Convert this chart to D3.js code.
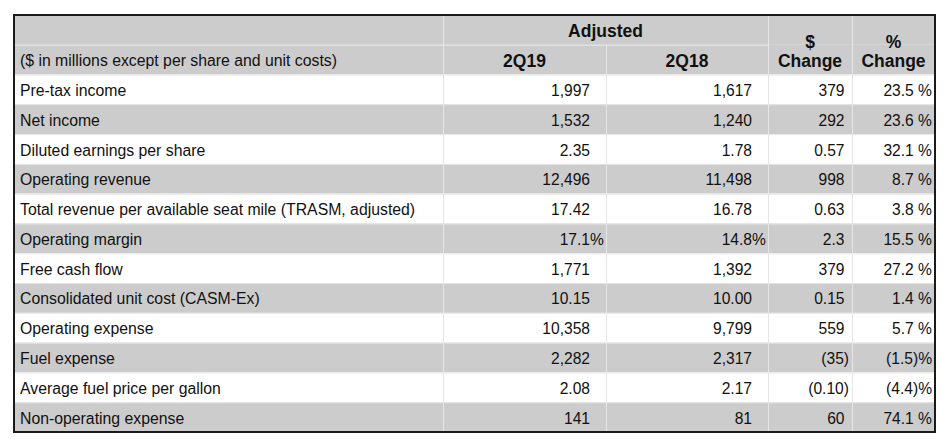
<!DOCTYPE html>
<html>
<head>
<meta charset="utf-8">
<script src="https://cdn.jsdelivr.net/npm/d3@7"></script>
<style>
  body { margin: 0; background: #fff; }
  svg text { font-family: "Liberation Sans", Arial, sans-serif; font-size: 15.6px; fill: #111; }
  svg text.lbl { font-size: 15.8px; }
  svg text.hd { font-weight: bold; font-size: 17.5px; }
</style>
</head>
<body>
<svg id="tab" width="952" height="446"></svg>
<script>
// table data
var metrics = ["Pre-tax income", "Net income", "Diluted earnings per share", "Operating revenue",
    "Total revenue per available seat mile (TRASM, adjusted)", "Operating margin", "Free cash flow",
    "Consolidated unit cost (CASM-Ex)", "Operating expense", "Fuel expense",
    "Average fuel price per gallon", "Non-operating expense"];
var q2_19 = [1997, 1532, 2.35, 12496, 17.42, 17.1, 1771, 10.15, 10358, 2282, 2.08, 141];
var q2_18 = [1617, 1240, 1.78, 11498, 16.78, 14.8, 1392, 10.00, 9799, 2317, 2.17, 81];
var dollarChange = [379, 292, 0.57, 998, 0.63, 2.3, 379, 0.15, 559, -35, -0.10, 60];
var pctChange = [23.5, 23.6, 32.1, 8.7, 3.8, 15.5, 27.2, 1.4, 5.7, -1.5, -4.4, 74.1];
var rowFormat = ["int", "int", "dec2", "int", "dec2", "pct", "int", "dec2", "int", "int", "dec2", "int"];
var headTop = ["", "Adjusted", "$", "%"];
var headBottom = ["($ in millions except per share and unit costs)", "2Q19", "2Q18", "Change", "Change"];

var svg = d3.select("#tab");
var tLeft = 14, tRight = 935, tTop = 15, tBottom = 432;
var colEdges = [tLeft, 443, 606, 768, 852, tRight];

var rows = d3.range(metrics.length + 2);
var y = d3.scaleBand().domain(rows).range([tTop, tBottom]);
var half = y.bandwidth() / 2;

var fmtInt = d3.format(",.0f"), fmt2 = d3.format(".2f"), fmt1 = d3.format(".1f");
function fmtVal(v, f) {
    var s;
    if (f == "int") s = fmtInt(Math.abs(v));
    else if (f == "dec2") s = fmt2(Math.abs(v));
    else s = fmt1(Math.abs(v));
    return v < 0 ? "(" + s + ")" : s;
}

// backgrounds
svg.selectAll("rect.bg").data(rows).enter().append("rect")
    .attr("class", "bg")
    .attr("x", tLeft).attr("width", tRight - tLeft)
    .attr("y", function(d){ return y(d); })
    .attr("height", y.bandwidth())
    .attr("fill", function(d){ return (d < 2 || d % 2 == 1) ? "#cccccc" : "#ffffff"; });

// grid lines (light)
var grid = svg.append("g").attr("stroke", "#e6e6e6").attr("stroke-width", 1);
rows.slice(1).forEach(function(r){
    var x2 = r == 1 ? colEdges[3] : tRight;
    grid.append("line").attr("x1", tLeft).attr("x2", x2)
        .attr("y1", y(r) + 0.5).attr("y2", y(r) + 0.5);
});
colEdges.slice(1, 5).forEach(function(cx, i){
    var y1 = (i == 1) ? y(1) : tTop;
    grid.append("line").attr("x1", cx + 0.5).attr("x2", cx + 0.5)
        .attr("y1", y1).attr("y2", tBottom);
});

// header
function colMid(i){ return (colEdges[i] + colEdges[i + 1]) / 2; }
var base0 = y(0) + half + 7, base1 = y(1) + half + 7.5;
svg.append("text").attr("class", "hd").attr("x", (colEdges[1] + colEdges[3]) / 2).attr("y", base0)
    .attr("text-anchor", "middle").text(headTop[1]);
svg.append("text").attr("class", "hd").attr("x", colMid(3)).attr("y", base0 + 11)
    .attr("text-anchor", "middle").text(headTop[2]);
svg.append("text").attr("class", "hd").attr("x", colMid(4)).attr("y", base0 + 11)
    .attr("text-anchor", "middle").text(headTop[3]);
svg.append("text").attr("class", "lbl").attr("x", tLeft + 6).attr("y", base1 - 1).text(headBottom[0]);
headBottom.slice(1).forEach(function(t, i){
    svg.append("text").attr("class", "hd").attr("x", colMid(i + 1)).attr("y", base1)
        .attr("text-anchor", "middle").text(t);
});

// body rows
var body = svg.selectAll("g.row").data(metrics).enter().append("g")
    .attr("class", "row")
    .attr("transform", function(d, i){ return "translate(0," + (y(i + 2) + half + 6.5) + ")"; });

body.append("text").attr("class", "lbl").attr("x", tLeft + 6).text(function(d){ return d; });

[q2_19, q2_18].forEach(function(arr, c){
    var edge = colEdges[c + 2] - 16;
    body.append("text").attr("x", edge).attr("text-anchor", "end")
        .text(function(d, i){ return fmtVal(arr[i], rowFormat[i]); });
    body.filter(function(d, i){ return rowFormat[i] == "pct"; })
        .append("text").attr("x", edge).text("%");
});

body.append("text")
    .attr("x", function(d, i){ return dollarChange[i] < 0 ? colEdges[4] - 3 : colEdges[4] - 7.5; })
    .attr("text-anchor", "end")
    .text(function(d, i){
        var f = rowFormat[i] == "pct" ? "dec1" : rowFormat[i];
        return fmtVal(dollarChange[i], f);
    });

body.append("text").attr("x", tRight - 3).attr("text-anchor", "end")
    .text(function(d, i){
        var v = pctChange[i];
        return v < 0 ? "(" + fmt1(-v) + ")%" : fmt1(v) + " %";
    });

// outer border
svg.append("rect").attr("x", tLeft).attr("y", tTop)
    .attr("width", tRight - tLeft).attr("height", tBottom - tTop)
    .attr("fill", "none").attr("stroke", "#1a1a1a").attr("stroke-width", 2);
</script>
</body>
</html>
